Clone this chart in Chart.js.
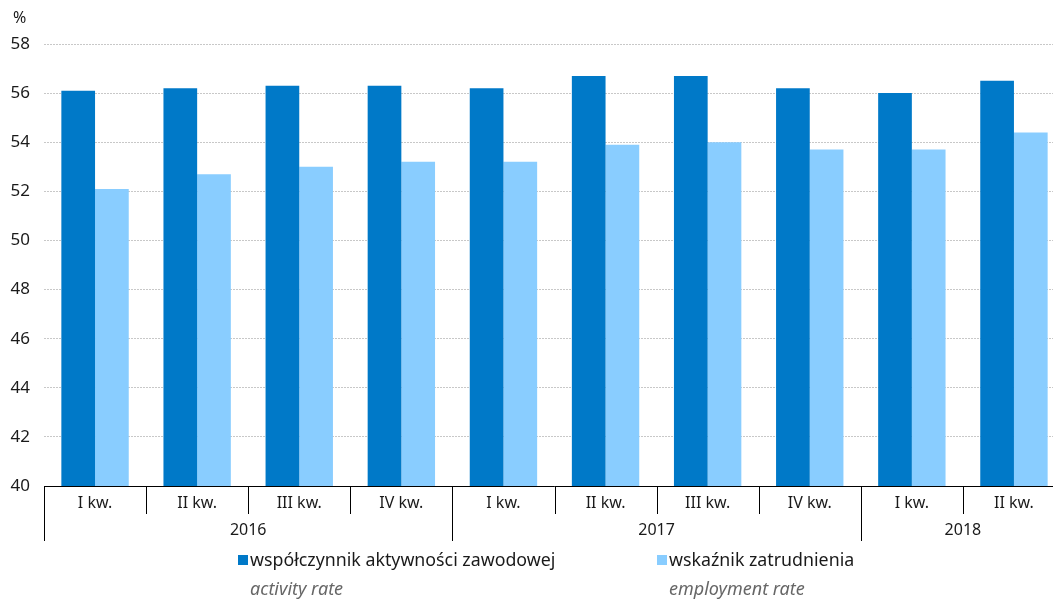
<!DOCTYPE html>
<html>
<head>
<meta charset="utf-8">
<script src="https://cdn.jsdelivr.net/npm/chart.js@4/dist/chart.umd.min.js"></script>
<style>
  body { margin: 0; background: #fff; overflow: hidden; }
</style>
</head>
<body>
<!-- the last group runs past the right edge of the picture, so the canvas is a bit wider than the window -->
<canvas id="chart" width="1065" height="600"></canvas>
<script>
const quarters = ['I kw.', 'II kw.', 'III kw.', 'IV kw.', 'I kw.', 'II kw.', 'III kw.', 'IV kw.', 'I kw.', 'II kw.'];
const years = ['2016', '2017', '2018'];
const yearSpans = [4, 4, 2];
const activityRate = [56.1, 56.2, 56.3, 56.3, 56.2, 56.7, 56.7, 56.2, 56.0, 56.5];
const employmentRate = [52.1, 52.7, 53.0, 53.2, 53.2, 53.9, 54.0, 53.7, 53.7, 54.4];
const seriesNames = ['współczynnik aktywności zawodowej', 'wskaźnik zatrudnienia'];
const seriesNamesEn = ['activity rate', 'employment rate'];

const darkBlue = '#0079c8';
const lightBlue = '#89cdff';
const font = '"Noto Sans", sans-serif';

// axis labels, year groups and the legend are drawn by hand below the plot
const lowerAxis = {
    id: 'lowerAxis',
    afterDraw(chart) {
        const ctx = chart.ctx;
        const area = chart.chartArea;
        const step = (area.right - area.left) / quarters.length;
        const base = area.bottom;

        ctx.save();
        ctx.strokeStyle = '#000';
        ctx.lineWidth = 1;
        ctx.beginPath();
        ctx.moveTo(area.left, base + 0.5);
        ctx.lineTo(area.right, base + 0.5);
        ctx.stroke();

        const yearStarts = [0];
        yearSpans.forEach((s, i) => yearStarts.push(yearStarts[i] + s));

        for (let i = 0; i < quarters.length; i++) {
            const x = Math.round(area.left + i * step) + 0.5;
            const long = yearStarts.includes(i);
            ctx.beginPath();
            ctx.moveTo(x, base);
            ctx.lineTo(x, base + (long ? 55 : 28));
            ctx.stroke();
        }

        ctx.fillStyle = '#1a1a1a';
        ctx.font = '16px ' + font;
        ctx.textAlign = 'center';
        ctx.textBaseline = 'middle';
        quarters.forEach((q, i) => {
            ctx.fillText(q, chart.scales.x.getPixelForValue(i), base + 17);
        });
        years.forEach((y, i) => {
            const x0 = area.left + yearStarts[i] * step;
            const x1 = area.left + yearStarts[i + 1] * step;
            ctx.fillText(y, (x0 + x1) / 2, base + 44);
        });

        // legend
        const legendX = [238, 657];
        const colors = [darkBlue, lightBlue];
        ctx.textAlign = 'left';
        seriesNames.forEach((name, i) => {
            ctx.fillStyle = colors[i];
            ctx.fillRect(legendX[i], 555, 10, 10);
            ctx.fillStyle = '#1a1a1a';
            ctx.font = '17.8px ' + font;
            ctx.fillText(name, legendX[i] + 12, 561);
            ctx.fillStyle = '#666';
            ctx.font = 'italic 18px ' + font;
            ctx.fillText(seriesNamesEn[i], legendX[i] + 12, 590);
        });

        ctx.fillStyle = '#1a1a1a';
        ctx.font = '16px ' + font;
        ctx.fillText('%', 13, 18);
        ctx.restore();
    }
};

new Chart(document.getElementById('chart'), {
    type: 'bar',
    data: {
        labels: quarters,
        datasets: [{
            label: seriesNames[0],
            data: activityRate,
            backgroundColor: darkBlue,
            categoryPercentage: 0.66,
            barPercentage: 1
        }, {
            label: seriesNames[1],
            data: employmentRate,
            backgroundColor: lightBlue,
            categoryPercentage: 0.66,
            barPercentage: 1
        }]
    },
    options: {
        responsive: false,
        animation: false,
        layout: {
            padding: { top: 44, bottom: 114, right: 0, left: 0 }
        },
        plugins: {
            legend: { display: false },
            tooltip: { enabled: false }
        },
        scales: {
            x: {
                display: false
            },
            y: {
                min: 40,
                max: 58,
                afterFit: (scale) => { scale.width = 44; },
                ticks: {
                    stepSize: 2,
                    padding: 14,
                    color: '#1a1a1a',
                    font: { family: font, size: 17 }
                },
                grid: {
                    color: '#c8c8c8',
                    drawTicks: false
                },
                border: {
                    display: false,
                    dash: [2, 1]
                }
            }
        }
    },
    plugins: [lowerAxis]
});
</script>
</body>
</html>
